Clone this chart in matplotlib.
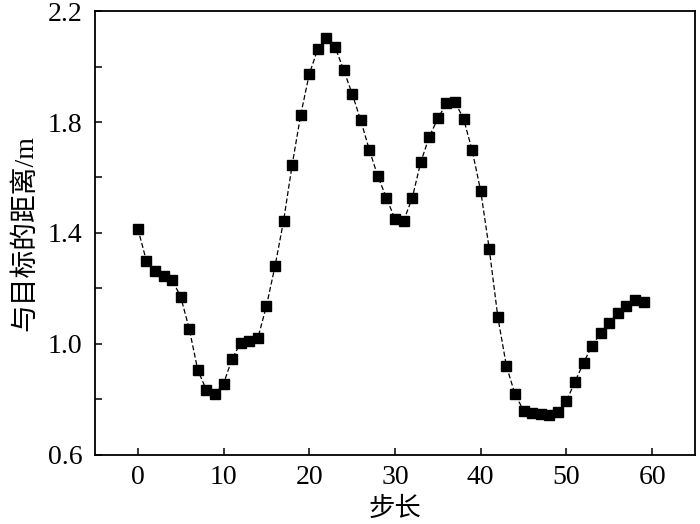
import matplotlib
matplotlib.use("Agg")
import matplotlib.pyplot as plt
from matplotlib.ticker import MultipleLocator

plt.rcParams['font.family'] = ['Liberation Serif', 'Noto Sans CJK SC', 'DejaVu Sans']

steps = list(range(60))
distance = [1.416, 1.299, 1.263, 1.246, 1.231, 1.170, 1.054, 0.905, 0.834, 0.820,
            0.857, 0.947, 1.005, 1.011, 1.021, 1.137, 1.280, 1.444, 1.645, 1.826,
            1.973, 2.064, 2.102, 2.071, 1.988, 1.902, 1.806, 1.700, 1.604, 1.527,
            1.449, 1.444, 1.525, 1.655, 1.747, 1.813, 1.867, 1.872, 1.811, 1.698,
            1.551, 1.341, 1.096, 0.920, 0.819, 0.760, 0.750, 0.749, 0.745, 0.755,
            0.795, 0.864, 0.933, 0.994, 1.041, 1.077, 1.113, 1.136, 1.159, 1.151]

xticks = [0, 10, 20, 30, 40, 50, 60]
yticks = [0.6, 1.0, 1.4, 1.8, 2.2]
xlabel = "步长"
ylabel = "与目标的距离/m"

fig = plt.figure(figsize=(7, 5.24), dpi=100)
ax = fig.add_axes([0.1357, 0.1317, 0.8572, 0.8473])
ax.plot(steps, distance, linestyle=(0, (4, 2)), color='black', linewidth=0.9,
        marker='s', markersize=7.8, markerfacecolor='black', markeredgecolor='black')

ax.set_xlim(-5, 65)
ax.set_ylim(0.6, 2.2)
ax.set_xticks(xticks)
ax.set_yticks(yticks)
ax.yaxis.set_minor_locator(MultipleLocator(0.2))
ax.set_yticklabels([f"{v:.1f}" for v in yticks])
ax.tick_params(axis='both', which='major', direction='in', length=5, width=1.1,
               labelsize=20, top=False, right=False)
ax.tick_params(axis='y', which='major', pad=9)
ax.tick_params(axis='x', which='major', pad=7)
ax.tick_params(axis='y', which='minor', direction='in', length=5, width=1.1, right=False)
for s in ax.spines.values():
    s.set_linewidth(1.3)

ax.set_xlabel(xlabel, fontsize=19, family=['Noto Sans CJK SC'], labelpad=4)
ax.set_ylabel(ylabel, fontsize=20, family=['Liberation Serif', 'Noto Sans CJK SC'], labelpad=7)

fig.savefig("out.png", dpi=100)
